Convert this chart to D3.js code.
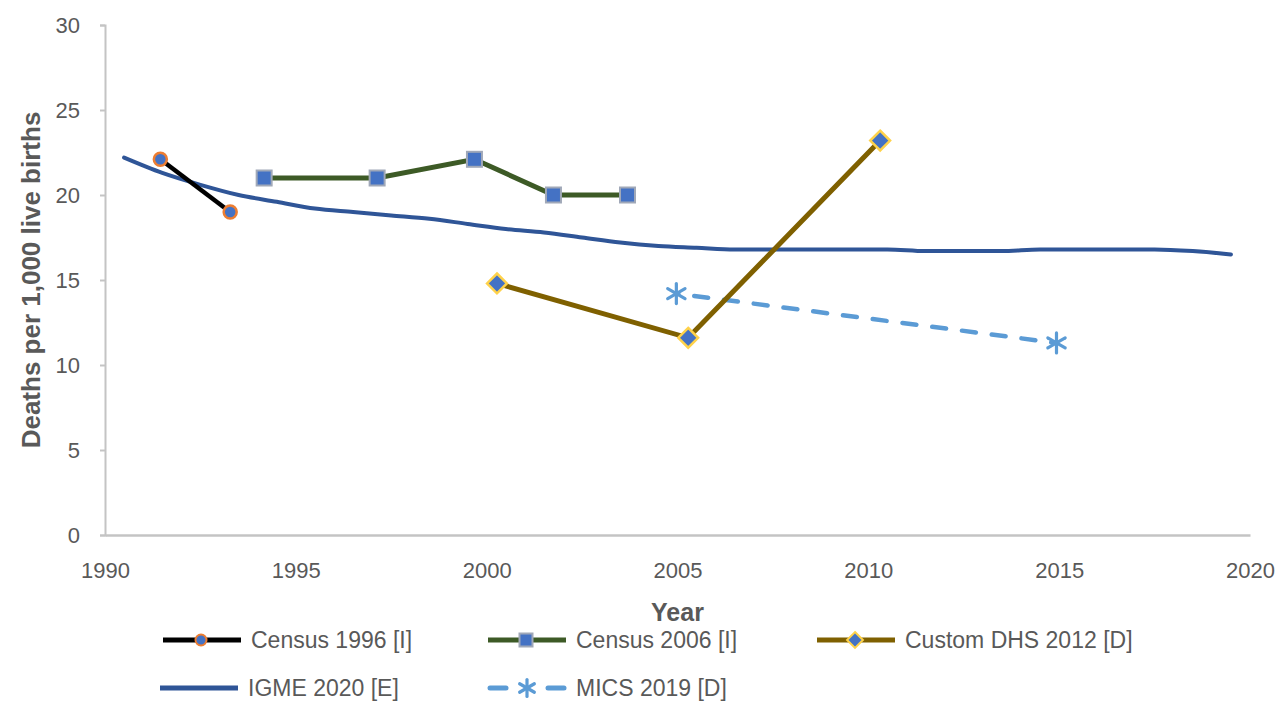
<!DOCTYPE html>
<html>
<head>
<meta charset="utf-8">
<script src="https://cdn.jsdelivr.net/npm/d3@7"></script>
<style>
  body { margin: 0; background: #fff; }
  text { font-family: "Liberation Sans", Arial, sans-serif; }
</style>
</head>
<body>
<svg class="chart" width="1282" height="701"></svg>
<script>
// data
var xTicks = [1990, 1995, 2000, 2005, 2010, 2015, 2020];
var yTicks = [0, 5, 10, 15, 20, 25, 30];

var census1996Years = [1991.45, 1993.28];
var census1996Values = [22.1, 19.0];

var census2006Years = [1994.17, 1997.13, 1999.68, 2001.75, 2003.69];
var census2006Values = [21.0, 21.0, 22.1, 20.0, 20.0];

var dhsYears = [2000.27, 2005.28, 2010.31];
var dhsValues = [14.8, 11.6, 23.2];

var igmeYears = [1990.5, 1991.5, 1992.5, 1993.5, 1994.5, 1995.5, 1996.5, 1997.5, 1998.5, 1999.5,
                 2000.5, 2001.5, 2002.5, 2003.5, 2004.5, 2005.5, 2006.5, 2007.5, 2008.5, 2009.5,
                 2010.5, 2011.5, 2012.5, 2013.5, 2014.5, 2015.5, 2016.5, 2017.5, 2018.5, 2019.5];
var igmeValues = [22.2, 21.3, 20.6, 20.0, 19.6, 19.2, 19.0, 18.8, 18.6, 18.3,
                  18.0, 17.8, 17.5, 17.2, 17.0, 16.9, 16.8, 16.8, 16.8, 16.8,
                  16.8, 16.7, 16.7, 16.7, 16.8, 16.8, 16.8, 16.8, 16.7, 16.5];

var micsYears = [2004.97, 2014.93];
var micsValues = [14.2, 11.3];

var legendNames = ["Census 1996 [I]", "Census 2006 [I]", "Custom DHS 2012 [D]", "IGME 2020 [E]", "MICS 2019 [D]"];

var svg = d3.select(".chart"),
    margin = {top: 25, right: 32, bottom: 166, left: 105},
    width = +svg.attr("width") - margin.left - margin.right,
    height = +svg.attr("height") - margin.top - margin.bottom,
    g = svg.append("g").attr("transform", "translate(" + margin.left + "," + margin.top + ")");

var x = d3.scaleLinear().domain([1990, 2020]).range([0, width]);
var y = d3.scaleLinear().domain([0, 30]).range([height, 0]);

var axisColor = "#c4c4c4", labelColor = "#595959";

// y axis
var yAxis = g.append("g")
    .call(d3.axisLeft(y).tickValues(yTicks).tickSize(5).tickPadding(20));
yAxis.select(".domain").attr("stroke", axisColor).attr("stroke-width", 2);
yAxis.selectAll(".tick line").attr("stroke", axisColor).attr("stroke-width", 2);
yAxis.selectAll(".tick text").attr("fill", labelColor).style("font-size", "22px").attr("dy", "0.36em");

// x axis
var xAxis = g.append("g")
    .attr("transform", "translate(0," + height + ")")
    .call(d3.axisBottom(x).tickValues(xTicks).tickFormat(d3.format("d")).tickSize(0).tickPadding(27));
xAxis.select(".domain").attr("stroke", axisColor).attr("stroke-width", 2.5);
xAxis.selectAll(".tick text").attr("fill", labelColor).style("font-size", "22px");

// axis titles
svg.append("text")
    .attr("transform", "translate(40," + (margin.top + y(15)) + ") rotate(-90)")
    .attr("text-anchor", "middle")
    .attr("fill", labelColor)
    .style("font-size", "26px")
    .style("font-weight", "bold")
    .text("Deaths per 1,000 live births");

svg.append("text")
    .attr("x", margin.left + x(2005))
    .attr("y", 621)
    .attr("text-anchor", "middle")
    .attr("fill", labelColor)
    .style("font-size", "25px")
    .style("font-weight", "bold")
    .text("Year");

function pts(xs, ys) {
  return xs.map(function(d, i) { return [d, ys[i]]; });
}

var line = d3.line()
    .x(function(d) { return x(d[0]); })
    .y(function(d) { return y(d[1]); });

var igmeLine = d3.line()
    .curve(d3.curveMonotoneX)
    .x(function(d) { return x(d[0]); })
    .y(function(d) { return y(d[1]); });

var blue = "#4472c4";

// IGME
g.append("path")
    .datum(pts(igmeYears, igmeValues))
    .attr("fill", "none")
    .attr("stroke", "#2f5597")
    .attr("stroke-width", 4)
    .attr("stroke-linecap", "round")
    .attr("d", igmeLine);

// MICS
g.append("path")
    .datum(pts(micsYears, micsValues))
    .attr("fill", "none")
    .attr("stroke", "#5b9bd5")
    .attr("stroke-width", 4.5)
    .attr("stroke-dasharray", "14,16")
    .attr("stroke-dashoffset", -18)
    .attr("stroke-linecap", "round")
    .attr("d", line);

function star(sel, cx, cy, r) {
  var gg = sel.append("g").attr("transform", "translate(" + cx + "," + cy + ")")
      .attr("stroke", "#5b9bd5").attr("stroke-width", 3.2).attr("stroke-linecap", "round");
  [90, 30, 150].forEach(function(a) {
    var rad = a * Math.PI / 180;
    gg.append("line")
      .attr("x1", -r * Math.cos(rad)).attr("y1", -r * Math.sin(rad))
      .attr("x2", r * Math.cos(rad)).attr("y2", r * Math.sin(rad));
  });
}
pts(micsYears, micsValues).forEach(function(d) { star(g, x(d[0]), y(d[1]), 10); });

// Census 1996
g.append("path")
    .datum(pts(census1996Years, census1996Values))
    .attr("fill", "none").attr("stroke", "#000").attr("stroke-width", 4.5)
    .attr("d", line);
g.selectAll(".c96")
    .data(pts(census1996Years, census1996Values))
  .enter().append("circle")
    .attr("cx", function(d) { return x(d[0]); })
    .attr("cy", function(d) { return y(d[1]); })
    .attr("r", 6.5)
    .attr("fill", blue).attr("stroke", "#ed7d31").attr("stroke-width", 2.5);

// Census 2006
g.append("path")
    .datum(pts(census2006Years, census2006Values))
    .attr("fill", "none").attr("stroke", "#3d5a26").attr("stroke-width", 5)
    .attr("d", line);
g.selectAll(".c06")
    .data(pts(census2006Years, census2006Values))
  .enter().append("rect")
    .attr("x", function(d) { return x(d[0]) - 7.5; })
    .attr("y", function(d) { return y(d[1]) - 7.5; })
    .attr("width", 15).attr("height", 15)
    .attr("fill", blue).attr("stroke", "#a0a8b8").attr("stroke-width", 2);

// Custom DHS
g.append("path")
    .datum(pts(dhsYears, dhsValues))
    .attr("fill", "none").attr("stroke", "#7f6000").attr("stroke-width", 5)
    .attr("d", line);
g.selectAll(".dhs")
    .data(pts(dhsYears, dhsValues))
  .enter().append("path")
    .attr("transform", function(d) { return "translate(" + x(d[0]) + "," + y(d[1]) + ")"; })
    .attr("d", d3.symbol().type(d3.symbolDiamond2).size(250))
    .attr("fill", blue).attr("stroke", "#ffd24a").attr("stroke-width", 2.5);

// legend
var legend = svg.append("g");
var legendPos = [[163, 640], [488, 640], [817, 640], [160, 688], [488, 688]];
var legendStroke = ["#000", "#3d5a26", "#7f6000", "#2f5597", "#5b9bd5"];

legendNames.forEach(function(name, i) {
  var lx = legendPos[i][0], ly = legendPos[i][1];
  var it = legend.append("g").attr("transform", "translate(" + lx + "," + ly + ")");
  if (i === 4) {
    it.append("line").attr("x1", 2).attr("x2", 18).attr("y1", 0).attr("y2", 0)
      .attr("stroke", legendStroke[i]).attr("stroke-width", 5).attr("stroke-linecap", "round");
    it.append("line").attr("x1", 60).attr("x2", 76).attr("y1", 0).attr("y2", 0)
      .attr("stroke", legendStroke[i]).attr("stroke-width", 5).attr("stroke-linecap", "round");
    star(it, 39, 0, 8.5);
  } else {
    it.append("line").attr("x1", 0).attr("x2", 78).attr("y1", 0).attr("y2", 0)
      .attr("stroke", legendStroke[i]).attr("stroke-width", 5);
    if (i === 0) {
      it.append("circle").attr("cx", 38).attr("cy", 0).attr("r", 5.5)
        .attr("fill", blue).attr("stroke", "#ed7d31").attr("stroke-width", 2);
    } else if (i === 1) {
      it.append("rect").attr("x", 31.5).attr("y", -6.5).attr("width", 13).attr("height", 13)
        .attr("fill", blue).attr("stroke", "#a0a8b8").attr("stroke-width", 2);
    } else if (i === 2) {
      it.append("path").attr("transform", "translate(38,0)")
        .attr("d", d3.symbol().type(d3.symbolDiamond2).size(160))
        .attr("fill", blue).attr("stroke", "#ffd24a").attr("stroke-width", 2);
    }
  }
  it.append("text")
    .attr("x", 88).attr("y", 0).attr("dy", "0.36em")
    .attr("fill", labelColor)
    .style("font-size", "23px")
    .text(name);
});
</script>
</body>
</html>
